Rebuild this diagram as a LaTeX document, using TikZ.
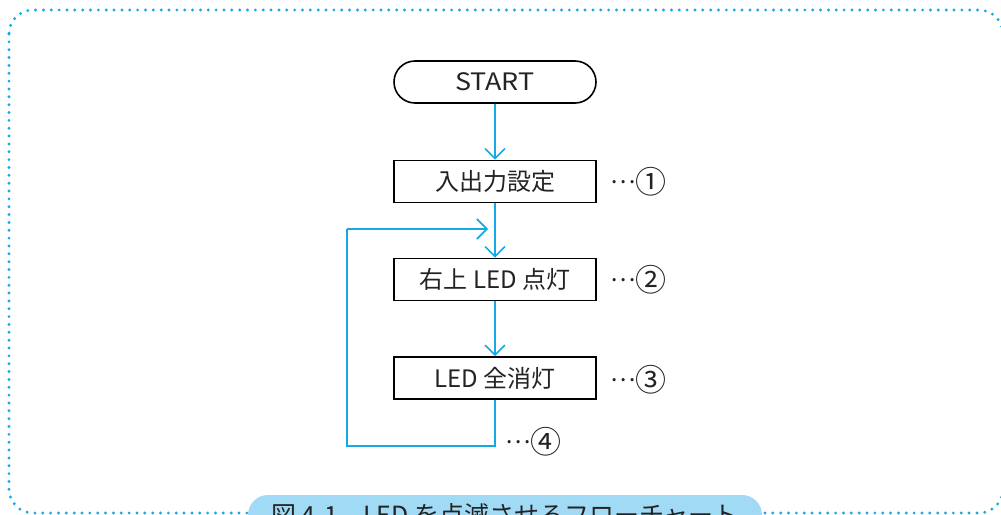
\documentclass[tikz,border=0pt]{standalone}
\usepackage{fontspec}
\setmainfont{Noto Sans CJK JP}
\usetikzlibrary{arrows.meta}
\definecolor{flowcyan}{RGB}{20,170,230}
\definecolor{capblue}{RGB}{160,218,245}
\definecolor{textgray}{RGB}{35,35,35}
\newcommand{\middots}{\raisebox{0.32em}{…}}
\newcommand{\circnum}[1]{{\fontsize{31}{31}\selectfont\raisebox{-0.08em}{#1}}}
\tikzset{
  procbox/.style={draw=black, line width=1.6pt, minimum width=202pt, minimum height=42pt, inner sep=0pt, font=\fontsize{24}{26}\selectfont, text=textgray},
  termbox/.style={procbox, rounded corners=21pt},
  flowarrow/.style={draw=flowcyan, line width=1.8pt, -{Straight Barb[length=10pt,width=20pt,line width=1.6pt]}},
  flowline/.style={draw=flowcyan, line width=1.8pt},
  note/.style={font=\fontsize{24}{26}\selectfont, text=textgray, inner sep=0pt, anchor=west}
}
\begin{document}
\begin{tikzpicture}[x=1pt,y=-1pt]
\clip (0,0) rectangle (1001,514);
\useasboundingbox (0,0) rectangle (1001,514);
\fill[white] (0,0) rectangle (1001,514);
% dotted frame
\draw[flowcyan, line width=3.2pt, line cap=round, dash pattern=on 0pt off 7.85pt, rounded corners=24pt] (9,10) rectangle (1003,513);
% nodes
\node[termbox] (start) at (495,82) {\addfontfeatures{FakeStretch=1.12}START};
\node[procbox] (io) at (495,181.5) {入出力設定};
\node[procbox] (led) at (495,279.5) {右上 LED 点灯};
\node[procbox] (off) at (495,378) {LED 全消灯};
\node[note] (n1) at (610,182) {\middots\circnum{①}};
\node[note] (n2) at (610,280) {\middots\circnum{②}};
\node[note] (n3) at (610,380) {\middots\circnum{③}};
\node[note] (n4) at (505,442) {\middots\circnum{④}};
% connectors
\draw[flowarrow] (start.south) -- (io.north);
\draw[flowarrow] (io.south) -- (led.north);
\draw[flowarrow] (led.south) -- (off.north);
\coordinate (c1) at (495,446);
\coordinate (c2) at (347,446);
\coordinate (c3) at (347,229);
\coordinate (c4) at (488,229);
\draw[flowline] (off.south) -- (c1) -- (c2) -- (c3);
\draw[flowarrow] (c3) -- (c4);
% caption
\node[fill=capblue, rounded corners=20pt, minimum width=514pt, minimum height=40pt, inner sep=0pt, font=\fontsize{25}{27}\selectfont, text=textgray] (cap) at (505,515) {図 4-1\quad LED を点滅させるフローチャート};
\end{tikzpicture}
\end{document}
